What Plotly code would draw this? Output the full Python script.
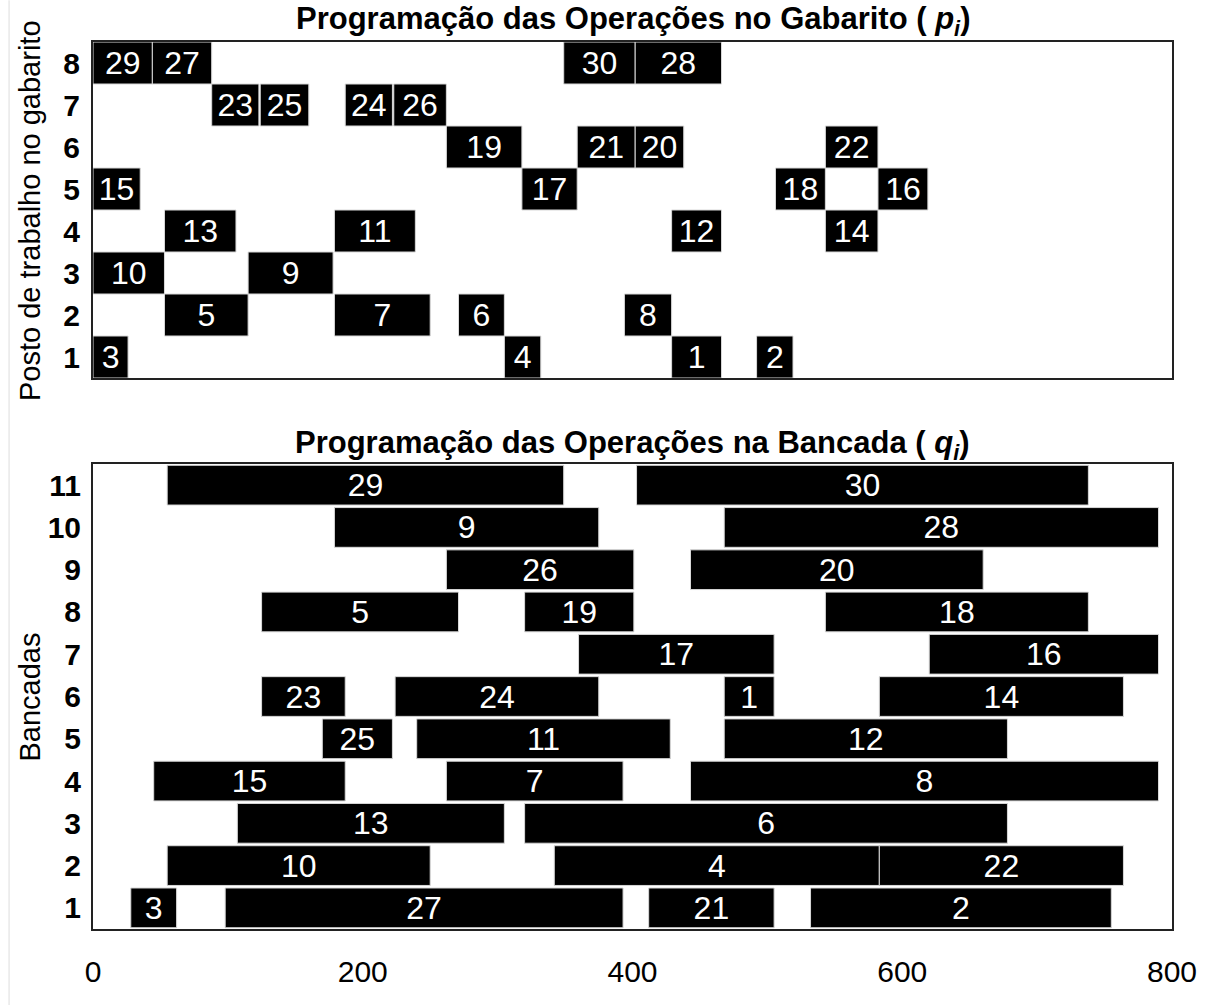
import plotly.graph_objects as go

# ---------------- Data: gabarito (p_i) ----------------
gab_ops      = ["29", "27", "30", "28", "23", "25", "24", "26", "19", "21", "20", "22",
                "15", "17", "18", "16", "13", "11", "12", "14", "10", "9",
                "5", "7", "6", "8", "3", "4", "1", "2"]
gab_station  = [8, 8, 8, 8, 7, 7, 7, 7, 6, 6, 6, 6,
                5, 5, 5, 5, 4, 4, 4, 4, 3, 3,
                2, 2, 2, 2, 1, 1, 1, 1]
gab_start    = [0, 44, 349, 402, 88, 124, 187, 223, 262, 359, 402, 543,
                0, 318, 506, 582, 53, 179, 429, 543, 0, 115,
                53, 179, 271, 394, 0, 305, 429, 492]
gab_end      = [44, 88, 402, 466, 123, 160, 222, 262, 318, 402, 438, 582,
                35, 359, 543, 619, 106, 239, 466, 582, 53, 178,
                115, 250, 305, 429, 26, 332, 466, 519]

# ---------------- Data: bancada (q_i) ----------------
ban_ops      = ["29", "30", "9", "28", "26", "20", "5", "19", "18", "17", "16",
                "23", "24", "1", "14", "25", "11", "12", "15", "7", "8",
                "13", "6", "10", "4", "22", "3", "27", "21", "2"]
ban_bench    = [11, 11, 10, 10, 9, 9, 8, 8, 8, 7, 7,
                6, 6, 6, 6, 5, 5, 5, 4, 4, 4,
                3, 3, 2, 2, 2, 1, 1, 1, 1]
ban_start    = [55, 403, 179, 468, 262, 443, 125, 320, 543, 360, 620,
                125, 224, 468, 583, 170, 240, 468, 45, 262, 443,
                107, 320, 55, 342, 583, 28, 98, 412, 532]
ban_end      = [349, 738, 375, 790, 401, 660, 271, 401, 738, 505, 790,
                187, 375, 505, 764, 222, 428, 678, 187, 393, 790,
                305, 678, 250, 583, 764, 62, 393, 505, 755]

x_ticks = [0, 200, 400, 600, 800]
gab_rows = [1, 2, 3, 4, 5, 6, 7, 8]
ban_rows = [1, 2, 3, 4, 5, 6, 7, 8, 9, 10, 11]

FONT = "Arial, Liberation Sans, sans-serif"
BAR_FONT = 32

fig = go.Figure()

fig.add_trace(go.Bar(
    orientation="h",
    y=gab_station,
    base=gab_start,
    x=[e - s for s, e in zip(gab_start, gab_end)],
    text=gab_ops,
    textposition="inside",
    insidetextanchor="middle",
    textangle=0,
    textfont=dict(color="white", size=BAR_FONT, family=FONT),
    marker=dict(color="black", line=dict(color="#d8d8d8", width=1)),
    width=1.0,
    xaxis="x", yaxis="y",
    hoverinfo="skip",
    showlegend=False,
))

fig.add_trace(go.Bar(
    orientation="h",
    y=ban_bench,
    base=ban_start,
    x=[e - s for s, e in zip(ban_start, ban_end)],
    text=ban_ops,
    textposition="inside",
    insidetextanchor="middle",
    textangle=0,
    textfont=dict(color="white", size=BAR_FONT, family=FONT),
    marker=dict(color="black", line=dict(color="#d8d8d8", width=1)),
    width=0.94,
    xaxis="x2", yaxis="y2",
    hoverinfo="skip",
    showlegend=False,
))

axis_line = dict(showline=True, mirror=True, linecolor="#222222", linewidth=2,
                 showgrid=False, zeroline=False)

top_dom = [0.6212, 1.0]
bot_dom = [0.0, 0.5242]

fig.update_layout(
    width=1224, height=1005,
    margin=dict(l=93, r=52, t=42, b=76),
    paper_bgcolor="white", plot_bgcolor="white",
    barmode="overlay",
    uniformtext=dict(mode="show", minsize=BAR_FONT),
    font=dict(family=FONT, color="black"),
    xaxis=dict(range=[0, 800], domain=[0, 1], anchor="y", showticklabels=False,
               ticks="", tickvals=x_ticks, **axis_line),
    yaxis=dict(range=[0.5, 8.5], domain=top_dom, anchor="x",
               tickvals=gab_rows, ticktext=[str(v) for v in gab_rows],
               ticks="", ticklabelstandoff=5,
               tickfont=dict(size=30, family=FONT, weight="bold"), **axis_line),
    xaxis2=dict(range=[0, 800], domain=[0, 1], anchor="y2",
                tickvals=x_ticks, ticktext=[str(v) for v in x_ticks],
                ticks="", ticklabelstandoff=15,
                tickfont=dict(size=30, family=FONT), **axis_line),
    yaxis2=dict(range=[0.5, 11.5], domain=bot_dom, anchor="x2",
                tickvals=ban_rows, ticktext=[str(v) for v in ban_rows],
                ticks="", ticklabelstandoff=4,
                tickfont=dict(size=30, family=FONT, weight="bold"), **axis_line),
)

annos = [
    dict(text="Programação das Operações no Gabarito ( <i>p<sub>i</sub></i>)",
         x=0.5, y=top_dom[1], xref="paper", yref="paper",
         xanchor="center", yanchor="middle", yshift=21, showarrow=False,
         font=dict(size=31, family=FONT, weight="bold")),
    dict(text="Programação das Operações na Bancada ( <i>q<sub>i</sub></i>)",
         x=0.5, y=bot_dom[1], xref="paper", yref="paper",
         xanchor="center", yanchor="middle", yshift=19, showarrow=False,
         font=dict(size=31, family=FONT, weight="bold")),
    dict(text="Posto de trabalho no gabarito",
         x=-0.0584, y=(top_dom[0] + top_dom[1]) / 2, xref="paper", yref="paper",
         xanchor="center", yanchor="middle", textangle=-90, showarrow=False,
         font=dict(size=29, family=FONT)),
    dict(text="Bancadas",
         x=-0.0584, y=(bot_dom[0] + bot_dom[1]) / 2, xref="paper", yref="paper",
         xanchor="center", yanchor="middle", textangle=-90, showarrow=False,
         font=dict(size=29, family=FONT)),
]
fig.update_layout(annotations=annos)

fig.add_shape(type="line", xref="paper", yref="paper",
              x0=-0.0778, x1=-0.0778, y0=-0.0857, y1=1.047,
              line=dict(color="#dddddd", width=1))

# remove the browser's default 8px body margin so the figure fills the window exactly
fig.write_html("out.html",
               config={"displayModeBar": False},
               post_script="document.body.style.margin='0px';document.body.style.overflow='hidden';")
